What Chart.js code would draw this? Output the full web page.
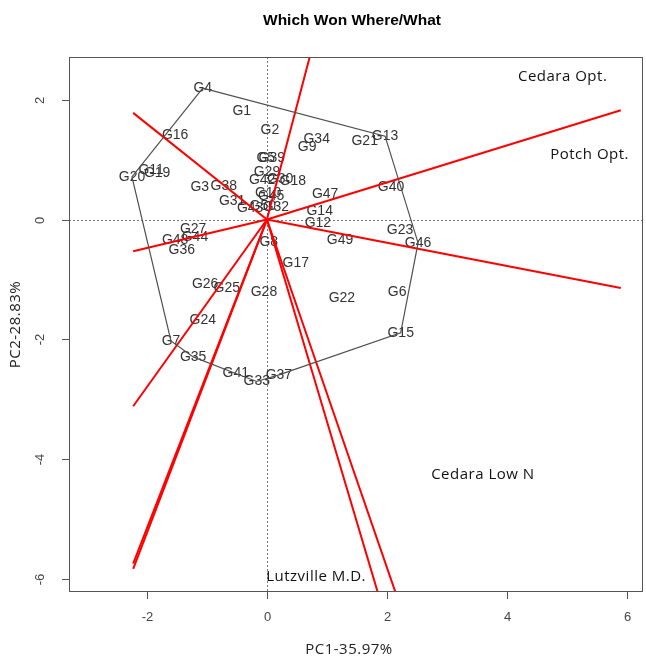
<!DOCTYPE html>
<html>
<head>
<meta charset="utf-8">
<script src="https://cdn.jsdelivr.net/npm/chart.js@4/dist/chart.umd.min.js"></script>
<style>
  html, body { margin: 0; padding: 0; background: #ffffff; }
  #c { display: block; }
</style>
</head>
<body>
<canvas id="c" width="646" height="659"></canvas>
<script>
// GGE biplot scores: genotype labels and their PC1 / PC2 coordinates
const genotypes = ['G1','G2','G3','G4','G5','G6','G7','G8','G9','G10',
  'G11','G12','G13','G14','G15','G16','G17','G18','G19','G20',
  'G21','G22','G23','G24','G25','G26','G27','G28','G29','G30',
  'G31','G32','G33','G34','G35','G36','G37','G38','G39','G40',
  'G41','G42','G43','G44','G45','G46','G47','G48','G49','G50'];
const pc1 = [-0.42, 0.05, -1.12, -1.07, -0.02, 2.17, -1.60, 0.03, 0.67, 0.02,
  -1.93, 0.85, 1.97, 0.88, 2.23, -1.53, 0.48, 0.43, -1.83, -2.25,
  1.63, 1.25, 2.22, -1.07, -0.67, -1.03, -1.23, -0.05, 0.00, 0.22,
  -0.58, 0.15, -0.17, 0.83, -1.23, -1.42, 0.20, -0.72, 0.08, 2.07,
  -0.52, -0.08, -0.28, -1.20, 0.07, 2.52, 0.97, -1.53, 1.22, -0.07];
const pc2 = [1.81, 1.49, 0.54, 2.19, 1.03, -1.21, -2.025, -0.38, 1.21, 0.44,
  0.83, -0.06, 1.39, 0.14, -1.89, 1.41, -0.73, 0.64, 0.78, 0.71,
  1.31, -1.31, -0.18, -1.68, -1.14, -1.08, -0.16, -1.21, 0.79, 0.68,
  0.31, 0.21, -2.70, 1.34, -2.29, -0.51, -2.59, 0.56, 1.03, 0.54,
  -2.566, 0.66, 0.19, -0.29, 0.39, -0.39, 0.43, -0.34, -0.34, 0.23];

// Vertex genotypes of the polygon, in drawing order
const hullOrder = ['G4','G13','G46','G15','G37','G33','G41','G35','G7','G20'];

// Environment markers
const environments = ['Cedara Opt.', 'Potch Opt.', 'Cedara Low N', 'Lutzville M.D.'];
const envPC1 = [4.93, 5.38, 3.60, 0.82];
const envPC2 = [2.375, 1.075, -4.26, -5.96];

// Axis ticks and the PC1 values where the sector rays stop
const xTicks = [-2, 0, 2, 4, 6];
const yTicks = [-6, -4, -2, 0, 2];
const rayReach = [-2.23, 5.9];

const xTitle = 'PC1-35.97%';
const yTitle = 'PC2-28.83%';
const mainTitle = 'Which Won Where/What';

// ---- derived geometry ----
const idx = name => genotypes.indexOf(name);
const hullPts = hullOrder.map(n => ({ x: pc1[idx(n)], y: pc2[idx(n)] }));
const hullClosed = hullPts.concat([hullPts[0]]);

// One ray per polygon side, along the outward perpendicular from the origin
const rays = hullPts.map((p, i) => {
  const q = hullPts[(i + 1) % hullPts.length];
  const dx = q.x - p.x, dy = q.y - p.y;
  const nx = -dy, ny = dx;              // outward normal for a clockwise polygon
  const t = (nx > 0 ? rayReach[1] : rayReach[0]) / nx;
  return [{ x: 0, y: 0 }, { x: nx * t, y: ny * t }];
});

const genoData = genotypes.map((g, i) => ({ x: pc1[i], y: pc2[i] }));
const envData = environments.map((e, i) => ({ x: envPC1[i], y: envPC2[i] }));

const datasets = [
  { label: 'genotypes', data: genoData, pointRadius: 0, showLine: false },
  { label: 'environments', data: envData, pointRadius: 0, showLine: false },
  { label: 'polygon', data: hullClosed, showLine: true, borderColor: '#505050',
    borderWidth: 1.2, pointRadius: 0, tension: 0, clip: 0 }
].concat(rays.map((r, i) => ({
  label: 'ray' + i, data: r, showLine: true, borderColor: '#ff0000',
  borderWidth: 2, pointRadius: 0, tension: 0, clip: 0
})));

const LABEL_FONT = '14px "Liberation Sans", Arial, sans-serif';
const TICK_FONT = '13px "Liberation Sans", Arial, sans-serif';
const ENV_FONT = '15px "Open Sans", "Noto Sans", sans-serif';

const biplotDecor = {
  id: 'biplotDecor',
  beforeDraw(chart) {
    const ctx = chart.ctx;
    ctx.save();
    ctx.fillStyle = '#ffffff';
    ctx.fillRect(0, 0, chart.width, chart.height);
    ctx.restore();
  },
  beforeDatasetsDraw(chart) {
    const { ctx, chartArea: a, scales: { x, y } } = chart;
    ctx.save();
    // dotted reference lines through the origin
    ctx.strokeStyle = '#777777';
    ctx.lineWidth = 1;
    ctx.setLineDash([2, 2]);
    const x0 = Math.round(x.getPixelForValue(0)) + 0.5;
    const y0 = Math.round(y.getPixelForValue(0)) + 0.5;
    ctx.beginPath();
    ctx.moveTo(x0, a.top); ctx.lineTo(x0, a.bottom);
    ctx.moveTo(a.left, y0); ctx.lineTo(a.right, y0);
    ctx.stroke();
    ctx.setLineDash([]);

    // genotype labels centred on their scores
    ctx.font = LABEL_FONT;
    ctx.fillStyle = '#333333';
    ctx.textAlign = 'center';
    ctx.textBaseline = 'middle';
    chart.getDatasetMeta(0).data.forEach((el, i) => {
      ctx.fillText(genotypes[i], el.x, el.y);
    });
    // environment labels
    ctx.font = ENV_FONT;
    ctx.letterSpacing = '0.5px';
    ctx.fillStyle = '#111111';
    chart.getDatasetMeta(1).data.forEach((el, i) => {
      ctx.fillText(environments[i], el.x, el.y);
    });
    ctx.letterSpacing = '0px';
    ctx.restore();
  },
  afterDraw(chart) {
    const { ctx, chartArea: a, scales: { x, y } } = chart;
    ctx.save();
    ctx.strokeStyle = '#555555';
    ctx.lineWidth = 1;
    ctx.strokeRect(Math.round(a.left) + 0.5, Math.round(a.top) + 0.5,
      Math.round(a.right - a.left) - 1, Math.round(a.bottom - a.top) - 1);

    ctx.font = TICK_FONT;
    ctx.fillStyle = '#444444';
    ctx.textAlign = 'center';
    ctx.textBaseline = 'middle';
    ctx.beginPath();
    xTicks.forEach(v => {
      const px = Math.round(x.getPixelForValue(v)) + 0.5;
      ctx.moveTo(px, a.bottom); ctx.lineTo(px, a.bottom + 7);
      ctx.fillText(String(v), px, a.bottom + 25);
    });
    yTicks.forEach(v => {
      const py = Math.round(y.getPixelForValue(v)) + 0.5;
      ctx.moveTo(a.left, py); ctx.lineTo(a.left - 7, py);
      ctx.save();
      ctx.translate(a.left - 29, py);
      ctx.rotate(-Math.PI / 2);
      ctx.fillText(String(v), 0, 0);
      ctx.restore();
    });
    ctx.stroke();

    // axis titles
    ctx.font = ENV_FONT;
    ctx.letterSpacing = '0.5px';
    ctx.fillStyle = '#222222';
    ctx.fillText(xTitle, 349, 650);
    ctx.save();
    ctx.translate(16, (a.top + a.bottom) / 2);
    ctx.rotate(-Math.PI / 2);
    ctx.fillText(yTitle, 0, 0);
    ctx.restore();
    ctx.letterSpacing = '0px';

    // main title
    ctx.font = 'bold 15.5px "Liberation Sans", Arial, sans-serif';
    ctx.fillStyle = '#000000';
    ctx.fillText(mainTitle, 352, 21);
    ctx.restore();
  }
};

new Chart(document.getElementById('c'), {
  type: 'scatter',
  data: { datasets },
  options: {
    responsive: false,
    animation: false,
    devicePixelRatio: 1,
    layout: { padding: { left: 69, right: 3, top: 57, bottom: 67 } },
    plugins: { legend: { display: false }, tooltip: { enabled: false }, title: { display: false } },
    events: [],
    scales: {
      x: { type: 'linear', min: -3.3, max: 6.27, display: false },
      y: { type: 'linear', min: -6.21, max: 2.71, display: false }
    }
  },
  plugins: [biplotDecor]
});
</script>
</body>
</html>
